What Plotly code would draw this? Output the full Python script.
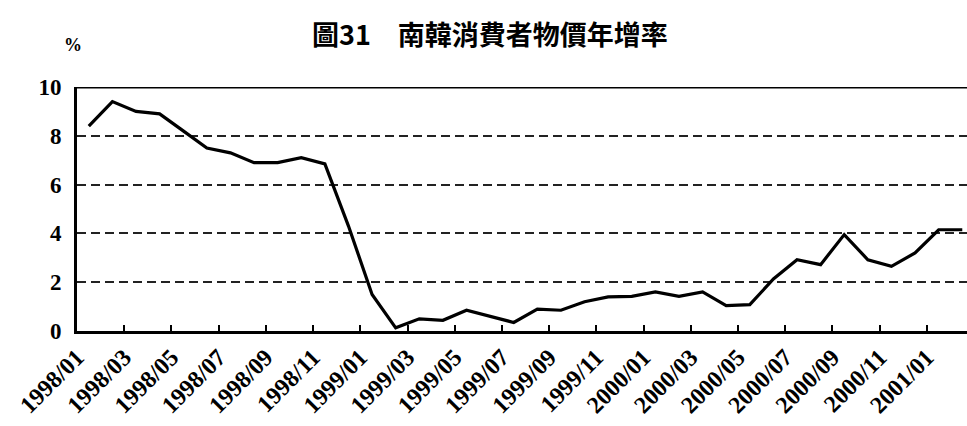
import plotly.graph_objects as go

# ---- data ----
months = [
    "1998/01", "1998/02", "1998/03", "1998/04", "1998/05", "1998/06",
    "1998/07", "1998/08", "1998/09", "1998/10", "1998/11", "1998/12",
    "1999/01", "1999/02", "1999/03", "1999/04", "1999/05", "1999/06",
    "1999/07", "1999/08", "1999/09", "1999/10", "1999/11", "1999/12",
    "2000/01", "2000/02", "2000/03", "2000/04", "2000/05", "2000/06",
    "2000/07", "2000/08", "2000/09", "2000/10", "2000/11", "2000/12",
    "2001/01", "2001/02",
]
cpi_yoy = [
    8.4, 9.4, 9.0, 8.9, 8.2, 7.5, 7.3, 6.9, 6.9, 7.1, 6.85,
    4.3, 1.5, 0.13, 0.5, 0.44, 0.85, 0.6, 0.35, 0.9, 0.85,
    1.2, 1.4, 1.42, 1.6, 1.42, 1.6, 1.04, 1.08, 2.13, 2.92,
    2.72, 3.95, 2.92, 2.65, 3.2, 4.15, 4.15,
]
tick_labels = months[0::2]
y_ticks = [0, 2, 4, 6, 8, 10]

title_text = "圖31\u3000南韓消費者物價年增率"
unit_text = "%"

# ---- figure ----
x_pos = [i + 0.5 for i in range(len(months))]
tick_pos = [i for i in range(0, len(months), 2)]

fig = go.Figure()
fig.add_trace(go.Scatter(
    x=x_pos, y=cpi_yoy, mode="lines",
    line=dict(color="black", width=3.2),
    hovertext=months, hoverinfo="text+y",
    showlegend=False,
))

fig.update_layout(
    width=967, height=426,
    margin=dict(l=77, r=0, t=87, b=95),
    paper_bgcolor="white", plot_bgcolor="white",
    font=dict(family="Liberation Serif", color="black"),
    xaxis=dict(
        range=[0, 37.7],
        tickmode="array", tickvals=tick_pos, ticktext=tick_labels,
        tickangle=-45,
        tickfont=dict(family="Liberation Serif", size=24, color="black", weight="bold"),
        ticks="inside", ticklen=6, tickwidth=1.5, tickcolor="black",
        showline=True, linecolor="black", linewidth=2.5,
        showgrid=False, zeroline=False,
    ),
    yaxis=dict(
        range=[0, 10],
        tickmode="array", tickvals=y_ticks,
        tickfont=dict(family="Liberation Serif", size=23, color="black", weight="bold"),
        ticks="", ticklabelstandoff=8,
        showline=True, linecolor="black", linewidth=3,
        showgrid=True, gridcolor="#222222", gridwidth=1.6, griddash="9px,5px",
        zeroline=False,
    ),
    shapes=[dict(
        type="line", xref="paper", yref="y", x0=0, x1=1, y0=10, y1=10,
        line=dict(color="black", width=3),
    )],
    annotations=[
        dict(text=title_text, xref="paper", yref="paper", x=0.464, y=1,
             xanchor="center", yanchor="middle", yshift=54,
             showarrow=False,
             font=dict(family="Noto Sans CJK TC", size=27, color="black", weight="bold")),
        dict(text=unit_text, xref="paper", yref="paper", x=0, y=1,
             xanchor="center", yanchor="middle", xshift=-4, yshift=42,
             showarrow=False,
             font=dict(family="Liberation Serif", size=18, color="black", weight="bold")),
    ],
)

# remove the default 8px page margin so the 967x426 figure fills the window exactly
fig.write_html(
    "out.html",
    config={"displayModeBar": False},
    post_script="document.body.style.margin='0';document.body.style.overflow='hidden';",
)
